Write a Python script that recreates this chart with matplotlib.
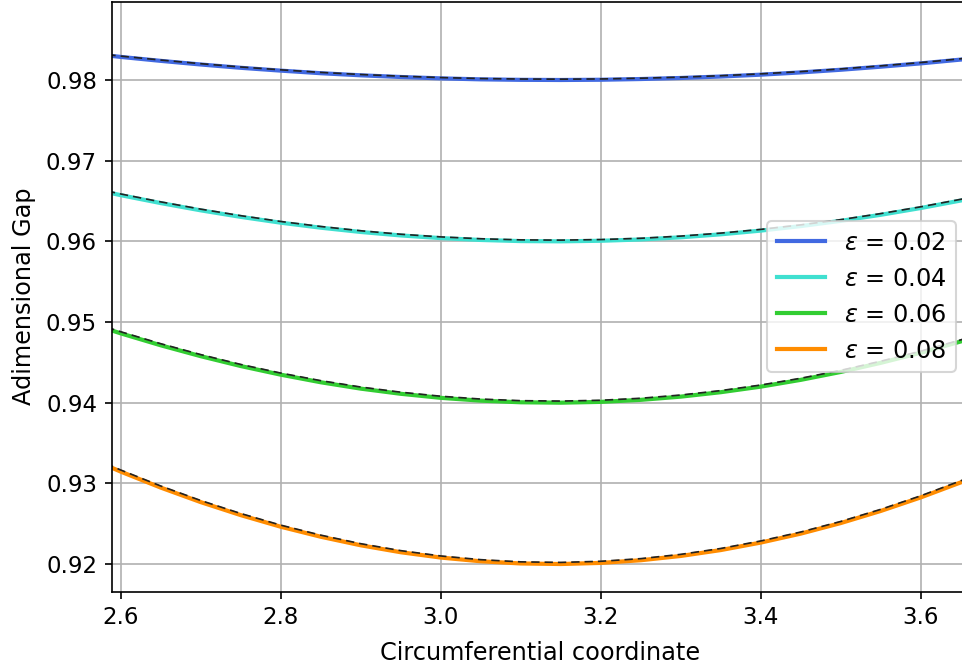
import matplotlib
matplotlib.use("Agg")
import matplotlib.pyplot as plt

# circumferential coordinate samples
theta = [2.55, 2.60, 2.65, 2.70, 2.75, 2.80, 2.85, 2.90, 2.95, 3.00, 3.05, 3.10,
         3.15, 3.20, 3.25, 3.30, 3.35, 3.40, 3.45, 3.50, 3.55, 3.60, 3.65, 3.70]

eps_labels = ["0.02", "0.04", "0.06", "0.08"]
colors = ["royalblue", "turquoise", "limegreen", "darkorange"]

# numerical gap
gap_002 = [0.98340, 0.98286, 0.98237, 0.98192, 0.98151, 0.98116, 0.98084, 0.98058,
           0.98037, 0.98020, 0.98008, 0.98002, 0.98000, 0.98003, 0.98012, 0.98025,
           0.98043, 0.98066, 0.98094, 0.98127, 0.98165, 0.98206, 0.98253, 0.98304]
gap_004 = [0.96680, 0.96572, 0.96474, 0.96384, 0.96303, 0.96231, 0.96169, 0.96116,
           0.96073, 0.96040, 0.96017, 0.96003, 0.96000, 0.96007, 0.96023, 0.96050,
           0.96087, 0.96133, 0.96189, 0.96254, 0.96329, 0.96413, 0.96506, 0.96608]
gap_006 = [0.95020, 0.94859, 0.94711, 0.94576, 0.94454, 0.94347, 0.94253, 0.94174,
           0.94110, 0.94060, 0.94025, 0.94005, 0.94000, 0.94010, 0.94035, 0.94075,
           0.94130, 0.94199, 0.94283, 0.94381, 0.94494, 0.94619, 0.94759, 0.94911]
gap_008 = [0.93360, 0.93145, 0.92947, 0.92767, 0.92606, 0.92462, 0.92338, 0.92232,
           0.92146, 0.92080, 0.92034, 0.92007, 0.92000, 0.92014, 0.92047, 0.92100,
           0.92173, 0.92266, 0.92377, 0.92508, 0.92658, 0.92826, 0.93012, 0.93215]

# analytical gap (dashed)
ref_002 = [0.98350, 0.98296, 0.98247, 0.98202, 0.98161, 0.98126, 0.98094, 0.98068,
           0.98047, 0.98030, 0.98018, 0.98012, 0.98010, 0.98013, 0.98022, 0.98035,
           0.98053, 0.98076, 0.98104, 0.98137, 0.98175, 0.98216, 0.98263, 0.98314]
ref_004 = [0.96695, 0.96587, 0.96489, 0.96399, 0.96318, 0.96246, 0.96184, 0.96131,
           0.96088, 0.96055, 0.96032, 0.96018, 0.96015, 0.96022, 0.96038, 0.96065,
           0.96102, 0.96148, 0.96204, 0.96269, 0.96344, 0.96428, 0.96521, 0.96623]
ref_006 = [0.95040, 0.94879, 0.94731, 0.94596, 0.94474, 0.94367, 0.94273, 0.94194,
           0.94130, 0.94080, 0.94045, 0.94025, 0.94020, 0.94030, 0.94055, 0.94095,
           0.94150, 0.94219, 0.94303, 0.94401, 0.94514, 0.94639, 0.94779, 0.94931]
ref_008 = [0.93380, 0.93165, 0.92967, 0.92787, 0.92626, 0.92482, 0.92358, 0.92252,
           0.92166, 0.92100, 0.92054, 0.92027, 0.92020, 0.92034, 0.92067, 0.92120,
           0.92193, 0.92286, 0.92397, 0.92528, 0.92678, 0.92846, 0.93032, 0.93235]

gaps = [gap_002, gap_004, gap_006, gap_008]
refs = [ref_002, ref_004, ref_006, ref_008]

plt.rcParams['font.size'] = 11
fig = plt.figure(figsize=(962/150, 668/150), dpi=150)
# right spine sits just outside the saved area
ax = fig.add_axes([111.7/962, 76.3/668, 856.3/962, 590.2/668])

for g, r, c, lab in zip(gaps, refs, colors, eps_labels):
    ax.plot(theta, g, color=c, lw=2, label=r'$\varepsilon$ = ' + lab)
    ax.plot(theta, r, '--', color='#222222', lw=0.8, dashes=(5, 3))

ax.set_xlim(2.5886, 3.659)
ax.set_ylim(0.91657, 0.98973)
ax.set_xticks([2.6, 2.8, 3.0, 3.2, 3.4, 3.6])
ax.set_yticks([0.92, 0.93, 0.94, 0.95, 0.96, 0.97, 0.98])
ax.grid(True)
ax.set_xlabel('Circumferential coordinate', fontsize=11.5, labelpad=5.5)
ax.set_ylabel('Adimensional Gap', fontsize=11.5, labelpad=5)

ax.legend(loc='center right', fontsize=11.5)

fig.savefig('out.png', dpi=150)
